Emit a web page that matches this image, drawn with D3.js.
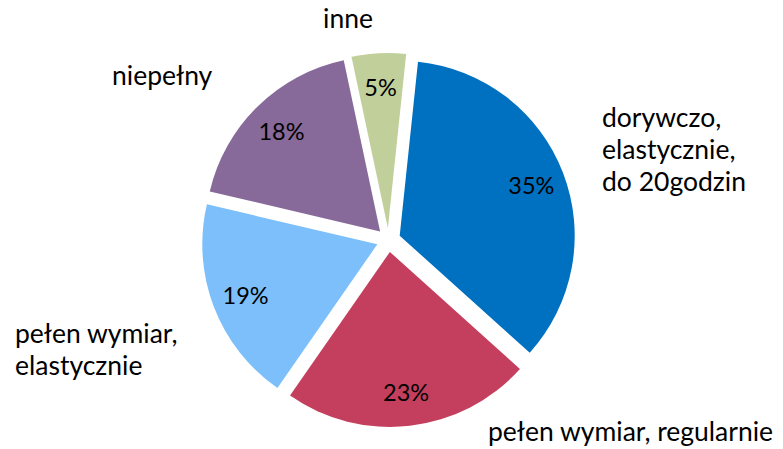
<!DOCTYPE html>
<html>
<head>
<meta charset="utf-8">
<script src="https://cdn.jsdelivr.net/npm/d3@7"></script>
<style>
  html, body { margin: 0; padding: 0; background: #fff; }
  text { font-family: Lato, "Open Sans", sans-serif; fill: #000; }
</style>
</head>
<body>
<div id="chart"></div>
<script>
// data
const categories = ['dorywczo, elastycznie, do 20godzin', 'pełen wymiar, regularnie', 'pełen wymiar, elastycznie', 'niepełny', 'inne'];
const values = [35, 23, 19, 18, 5];
const percentLabels = ['35%', '23%', '19%', '18%', '5%'];
const colors = ['#0070C0', '#C43F5D', '#7CBFFB', '#876A9A', '#C1CF9A'];

// category label lines + where they sit (left x, first baseline)
const labelLines = [
    ['dorywczo,', 'elastycznie,', 'do 20godzin'],
    ['pełen wymiar, regularnie'],
    ['pełen wymiar,', 'elastycznie'],
    ['niepełny'],
    ['inne']
];
const labelPos = [
    { x: 602, y: 127, anchor: 'start' },
    { x: 488, y: 441, anchor: 'start' },
    { x: 15, y: 343, anchor: 'start' },
    { x: 112, y: 85, anchor: 'start' },
    { x: 348, y: 28, anchor: 'middle' }
];

const width = 783, height = 449;
const cx = 388.5, cy = 240;
const radius = 175;
const explode = 12;
const labelRadius = 141;
const lineHeight = 32;

const svg = d3.select('#chart')
    .append('svg')
    .attr('width', width)
    .attr('height', height);

const startAngle = 6 * Math.PI / 180;

const pie = d3.pie()
    .sort(null)
    .value((d) => d)
    .startAngle(startAngle)
    .endAngle(startAngle + 2 * Math.PI);

const arcs = pie(values);

const arc = d3.arc()
    .innerRadius(0)
    .outerRadius(radius);

const g = svg.append('g')
    .attr('transform', `translate(${cx},${cy})`);

const mid = (d) => (d.startAngle + d.endAngle) / 2;

const slice = g.selectAll('.slice')
    .data(arcs)
    .enter()
    .append('g')
    .attr('class', 'slice')
    .attr('transform', (d) => {
        const a = mid(d);
        return `translate(${explode * Math.sin(a)},${-explode * Math.cos(a)})`;
    });

slice.append('path')
    .attr('d', arc)
    .attr('fill', (d, i) => colors[i]);

slice.append('text')
    .attr('x', (d) => labelRadius * Math.sin(mid(d)))
    .attr('y', (d) => -labelRadius * Math.cos(mid(d)))
    .attr('text-anchor', 'middle')
    .attr('dominant-baseline', 'central')
    .style('font-size', '23.5px')
    .text((d, i) => percentLabels[i]);

// category labels
categories.forEach((c, i) => {
    const t = svg.append('text')
        .attr('x', labelPos[i].x)
        .attr('y', labelPos[i].y)
        .attr('text-anchor', labelPos[i].anchor)
        .style('font-size', '26.5px');
    labelLines[i].forEach((line, j) => {
        t.append('tspan')
            .attr('x', labelPos[i].x)
            .attr('dy', j === 0 ? 0 : lineHeight)
            .text(line);
    });
});
</script>
</body>
</html>
